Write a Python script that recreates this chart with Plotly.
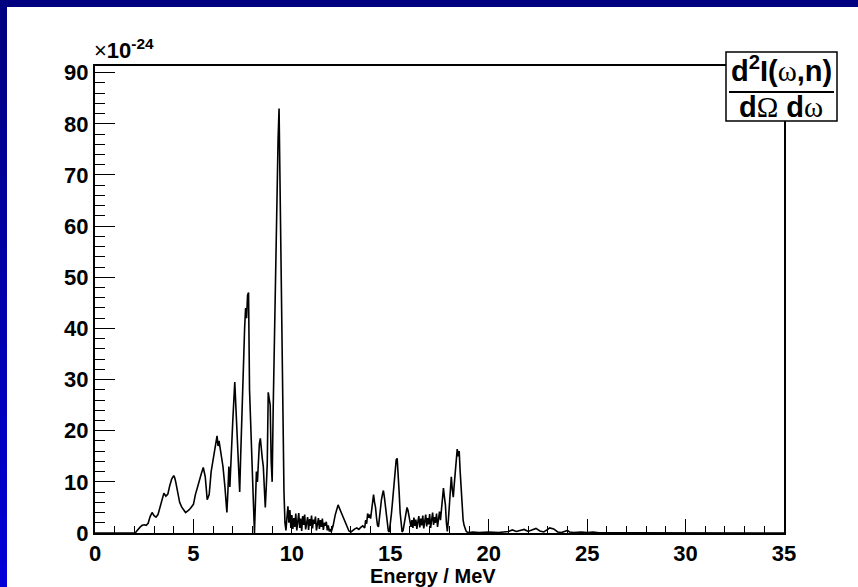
import plotly.graph_objects as go

# ---------------- data ----------------
energy_mev = [
    0.0, 2.05, 2.1, 2.2, 2.3, 2.4, 2.5, 2.6, 2.7, 2.8, 2.9, 3.0, 3.1, 3.2, 3.3, 3.4, 3.5, 3.6, 3.7, 3.8, 3.9,
    4.0, 4.05, 4.1, 4.2, 4.3, 4.4, 4.5, 4.6, 4.7, 4.8, 4.9, 5.0, 5.1, 5.2, 5.3, 5.4, 5.5, 5.6, 5.7, 5.8, 5.9,
    6.0, 6.1, 6.2, 6.25, 6.3, 6.4, 6.5, 6.6, 6.7, 6.75, 6.8, 6.85, 6.9, 7.0, 7.1, 7.15, 7.2, 7.25, 7.3, 7.35,
    7.4, 7.45, 7.5, 7.55, 7.6, 7.65, 7.7, 7.75, 7.8, 7.85, 7.9, 7.95, 8.0, 8.05, 8.1, 8.15, 8.2, 8.25, 8.3,
    8.35, 8.4, 8.45, 8.5, 8.55, 8.6, 8.65, 8.7, 8.75, 8.8, 8.85, 8.9, 8.95, 9.0, 9.05, 9.1, 9.15, 9.2, 9.25,
    9.3, 9.35, 9.4, 9.45, 9.5, 9.55, 9.6, 9.65, 9.7, 9.75, 9.8, 9.85, 9.9, 9.95,
    10.0, 10.05, 10.1, 10.15, 10.2, 10.25, 10.3, 10.35, 10.4, 10.45, 10.5, 10.55, 10.6, 10.65, 10.7, 10.75,
    10.8, 10.85, 10.9, 10.95, 11.0, 11.05, 11.1, 11.15, 11.2, 11.25, 11.3, 11.35, 11.4, 11.45, 11.5, 11.55,
    11.6, 11.65, 11.7, 11.75, 11.8, 11.85, 11.9, 11.95, 12.0,
    12.1, 12.2, 12.3, 12.35, 12.4, 12.5, 12.6, 12.7, 12.8, 12.9, 13.0, 13.1, 13.2, 13.3, 13.4, 13.5, 13.6,
    13.7, 13.75, 13.8, 13.85, 13.9, 13.95, 14.0, 14.05, 14.1, 14.15, 14.2, 14.25, 14.3, 14.35, 14.4, 14.45,
    14.5, 14.55, 14.6, 14.65, 14.7, 14.75, 14.8, 14.85, 14.9, 14.95, 15.0, 15.05, 15.1, 15.15, 15.2, 15.25,
    15.3, 15.35, 15.4, 15.45, 15.5, 15.55, 15.6, 15.65, 15.7, 15.75, 15.8, 15.85, 15.9, 15.95, 16.0, 16.05,
    16.1, 16.15, 16.2, 16.25, 16.3, 16.35, 16.4, 16.45, 16.5, 16.55, 16.6, 16.65, 16.7, 16.75, 16.8, 16.85,
    16.9, 16.95, 17.0, 17.05, 17.1, 17.15, 17.2, 17.25, 17.3, 17.35, 17.4, 17.45, 17.5, 17.55, 17.6, 17.65,
    17.7, 17.75, 17.8, 17.85, 17.9, 17.95, 18.0, 18.05, 18.1, 18.15, 18.2, 18.25, 18.3, 18.35, 18.4, 18.45,
    18.5, 18.55, 18.6, 18.65, 18.7, 18.75, 18.8, 18.85, 18.9, 19.0, 19.2,
    19.5, 20.0, 20.5, 21.0, 21.2, 21.4, 21.6, 21.8, 22.0, 22.2, 22.4, 22.6, 22.8, 23.0, 23.1, 23.3, 23.5,
    23.7, 23.9, 24.0, 24.1, 24.3, 24.7, 25.0, 25.3, 25.6, 26.0, 27.0, 35.0,
]

intensity_e24 = [
    0.0, 0.0, 0.3, 0.8, 1.2, 1.5, 1.6, 1.5, 1.9, 3.2, 4.0, 3.4, 3.1, 3.6, 5.0, 6.5, 7.8, 7.2, 7.6, 9.3, 10.6,
    11.2, 10.8, 10.0, 7.8, 6.0, 5.1, 4.5, 4.0, 4.3, 4.6, 5.1, 5.6, 7.5, 9.0, 10.5, 11.6, 12.8, 11.0, 6.5, 7.5, 12.0,
    14.5, 16.5, 19.0, 17.0, 18.0, 15.5, 13.0, 9.0, 4.0, 8.0, 13.0, 9.0, 12.5, 22.0, 29.5, 25.0, 22.0, 15.0, 10.3, 8.0,
    15.0, 22.5, 30.0, 38.0, 40.0, 44.0, 42.0, 46.5, 47.0, 28.0, 22.0, 18.0, 9.0, 3.0, 0.0, 6.0, 12.0, 10.0, 16.0,
    17.5, 18.5, 16.0, 14.5, 13.0, 8.0, 5.0, 9.0, 13.5, 27.5, 26.0, 25.0, 14.0, 10.0, 24.0, 35.0, 48.0, 62.0, 70.0,
    77.0, 83.0, 68.0, 55.0, 36.0, 16.0, 8.0, 2.0, 0.5, 3.0, 5.2, 2.0, 4.5, 1.0,
    3.5, 0.8, 2.9, 1.2, 3.8, 0.5, 2.5, 3.9, 1.0, 2.8, 0.4, 3.3, 1.6, 3.6, 0.7, 2.4,
    3.1, 0.6, 2.7, 1.4, 3.4, 0.9, 2.6, 1.8, 3.2, 0.5, 2.2, 2.9, 0.8, 2.5, 1.2, 2.8,
    0.6, 2.0, 1.4, 2.2, 0.5, 1.5, 0.3, 0.8, 0.2,
    1.5, 3.5, 5.0, 5.5, 5.0, 4.0, 3.0, 2.0, 1.2, 0.4, 0.2, 0.6, 0.8, 1.0, 0.7, 1.1, 1.4,
    1.0, 2.5, 1.8, 3.8, 3.0, 3.6, 2.8, 4.5, 6.5, 7.5, 6.0, 5.0, 3.0, 1.5, 1.2, 3.0,
    5.5, 6.5, 7.5, 8.3, 7.0, 5.0, 3.0, 1.5, 0.4, 0.2, 1.5, 3.5, 5.5, 8.0, 11.0, 13.0,
    14.3, 14.6, 12.0, 8.0, 4.0, 1.0, 0.2, 0.5, 1.5, 3.0, 4.2, 5.0, 4.4, 3.2, 2.0, 1.2,
    2.5, 1.0, 3.0, 1.4, 2.6, 0.8, 2.2, 3.3, 1.1, 2.8, 1.5, 3.4, 0.9, 2.4, 3.6, 1.3,
    2.9, 1.7, 3.7, 1.0, 2.6, 4.0, 1.6, 3.1, 2.0, 3.8, 1.2, 3.4, 4.2, 2.5, 5.0, 7.5,
    8.8, 7.0, 5.5, 2.0, 0.3, 2.5, 6.0, 9.0, 11.0, 8.5, 7.0, 9.5, 12.0, 14.5, 16.4, 15.0,
    16.0, 12.0, 8.0, 5.0, 2.5, 1.5, 0.8, 0.4, 0.2, 0.1, 0.2,
    0.1, 0.2, 0.1, 0.3, 0.6, 0.3, 0.5, 0.7, 0.3, 0.6, 0.9, 0.4, 0.2, 0.7, 1.0, 0.8, 0.2,
    0.1, 0.4, 0.5, 0.2, 0.1, 0.2, 0.1, 0.2, 0.05, 0.05, 0.02, 0.0,
]

x_range = [0, 35]
y_range = [0, 91.3]
x_ticks = [0, 5, 10, 15, 20, 25, 30, 35]
y_ticks = [0, 10, 20, 30, 40, 50, 60, 70, 80, 90]

# ---------------- layout geometry (pixels) ----------------
W, H = 858, 587
L, R, T, B = 95, 784, 66, 533


def px(xp):
    return (xp - L) / (R - L)


def py(yp):
    return (B - yp) / (B - T)


FONT = "Liberation Sans, Arial, Helvetica, sans-serif"

fig = go.Figure()
fig.add_trace(go.Scatter(
    x=energy_mev, y=intensity_e24, mode="lines",
    line=dict(color="black", width=1.6), hoverinfo="skip", showlegend=False,
))

shapes = []
# ROOT style canvas border: dark top band, gradient left band
shapes.append(dict(type="rect", xref="paper", yref="paper", x0=px(0), x1=px(W), y0=py(0), y1=py(7),
                   fillcolor="#000080", line=dict(width=0), layer="above"))
n = 24
for i in range(n):
    y0p = 7 + (H - 7) * i / n
    y1p = 7 + (H - 7) * (i + 1) / n + 1
    f = i / (n - 1)
    b = int(128 + (215 - 128) * f)
    shapes.append(dict(type="rect", xref="paper", yref="paper", x0=px(0), x1=px(7), y0=py(y0p), y1=py(y1p),
                       fillcolor=f"rgb(0,0,{b})", line=dict(width=0), layer="above"))
# top-right label box
shapes.append(dict(type="rect", xref="paper", yref="paper", x0=px(726), x1=px(837), y0=py(52), y1=py(121),
                   fillcolor="white", line=dict(color="black", width=1.5), layer="above"))
shapes.append(dict(type="line", xref="paper", yref="paper", x0=px(729), x1=px(834), y0=py(92), y1=py(92),
                   line=dict(color="black", width=2), layer="above"))

annotations = [
    dict(xref="paper", yref="paper", x=px(92), y=py(65), xanchor="left", yanchor="bottom", showarrow=False,
         text="×<b>10</b><sup><b>-24</b></sup>", font=dict(family=FONT, size=22, color="black")),
    dict(xref="paper", yref="paper", x=px(433), y=py(576), xanchor="center", yanchor="middle", showarrow=False,
         text="<b>Energy / MeV</b>", font=dict(family=FONT, size=20, color="black")),
    dict(xref="paper", yref="paper", x=px(781), y=py(69), xanchor="center", yanchor="middle", showarrow=False,
         text="<b>d<sup>2</sup>I(</b><span style='font-family:Liberation Serif'>ω</span><b>,n)</b>",
         font=dict(family=FONT, size=29, color="black")),
    dict(xref="paper", yref="paper", x=px(781), y=py(107), xanchor="center", yanchor="middle", showarrow=False,
         text="<b>d</b><span style='font-family:Liberation Serif'>Ω</span><b> d</b><span style='font-family:Liberation Serif'>ω</span>",
         font=dict(family=FONT, size=29, color="black")),
]

fig.update_layout(
    width=W, height=H,
    margin=dict(l=L, r=W - R, t=T, b=H - B, pad=0),
    paper_bgcolor="white", plot_bgcolor="white",
    shapes=shapes, annotations=annotations,
    xaxis=dict(
        range=x_range, tickmode="array", tickvals=x_ticks, ticktext=[str(v) for v in x_ticks],
        ticks="inside", ticklen=14, tickwidth=1.3, tickcolor="black",
        minor=dict(dtick=1, ticks="inside", ticklen=7, tickwidth=1.3, tickcolor="black", showgrid=False),
        showline=True, linecolor="black", linewidth=2, mirror=True,
        showgrid=False, zeroline=False,
        tickfont=dict(family=FONT, size=22, color="black", weight="bold"),
    ),
    yaxis=dict(
        range=y_range, tickmode="array", tickvals=y_ticks, ticktext=[str(v) for v in y_ticks],
        ticks="inside", ticklen=20, tickwidth=1.3, tickcolor="black",
        minor=dict(dtick=2, ticks="inside", ticklen=10, tickwidth=1.3, tickcolor="black", showgrid=False),
        showline=True, linecolor="black", linewidth=2, mirror=True,
        showgrid=False, zeroline=False,
        tickfont=dict(family=FONT, size=22, color="black", weight="bold"),
    ),
)

fig.write_html("out.html")
